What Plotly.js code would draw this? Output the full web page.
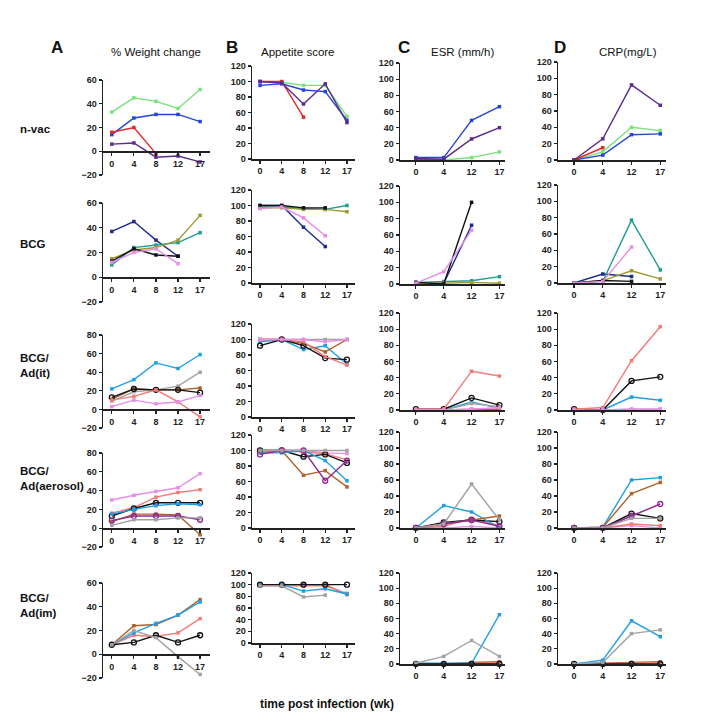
<!DOCTYPE html>
<html><head><meta charset="utf-8">
<script src="https://cdn.plot.ly/plotly-3.0.1.min.js"></script>
<style>html,body{margin:0;padding:0;background:#fff}#chart{width:708px;height:726px}</style>
</head><body><div id="chart"></div>
<script>
// ---- categories ----
const weeksAB = ['0','4','8','12','17'];
const weeksCD = ['0','4','12','17'];
const rowLabels = ['n-vac','BCG','BCG/<br>Ad(it)','BCG/<br>Ad(aerosol)','BCG/<br>Ad(im)'];
const colTitles = ['% Weight change','Appetite score','ESR (mm/h)','CRP(mg/L)'];
const colLetters = ['A','B','C','D'];

// ---- colours per group ----
const colNvac = ['#7be27b','#2346d6','#e02a2a','#5b2d8e'];
const colBCG  = ['#1c2b8c','#1f9d8f','#9d9a33','#111111','#e68de9'];
const colIt   = ['#1fa0e6','#a2a2a2','#b0622c','#111111','#f27a78','#e68de9'];
const colAer  = ['#e68de9','#f27a78','#111111','#1fa0e6','#b0622c','#8e2a94','#a2a2a2'];
const colIm   = ['#b0622c','#f27a78','#1fa0e6','#111111','#a2a2a2'];
const openNvac = [0,0,0,0];
const openBCG  = [0,0,0,0,0];
const openIt   = [0,0,0,1,0,0];
const openAer  = [0,0,1,0,0,1,0];
const openIm   = [0,0,0,1,0];

// ---- n-vac ----
const nvacWeight   = [[33,45,42,36,52],[14,28,31,31,25],[16,20,-2,null,null],[6,7,-5,-4,-9]];
const nvacAppetite = [[100,99,95,95,55],[95,97,89,87,50],[100,100,54,null,null],[100,98,71,97,47]];
const nvacESR      = [[0,0,3,10],[3,3,49,66],[1,0,null,null],[2,1,26,40]];
const nvacCRP      = [[0,10,40,36],[0,6,31,32],[0,15,null,null],[0,26,92,67]];
// ---- BCG ----
const bcgWeight   = [[37,45,30,17,null],[10,24,26,28,36],[15,22,24,30,50],[13,23,18,17,null],[12,20,23,11,null]];
const bcgAppetite = [[100,100,72,47,null],[98,98,96,95,100],[97,97,95,95,92],[100,100,97,97,null],[96,98,84,61,null]];
const bcgESR      = [[1,1,72,null],[2,3,4,9],[1,1,2,1],[2,0,100,null],[1,15,66,null]];
const bcgCRP      = [[0,11,8,null],[0,2,77,16],[0,3,15,5],[0,3,2,null],[0,2,44,null]];
// ---- BCG/Ad(it) ----
const itWeight   = [[22,32,50,44,59],[9,19,21,25,40],[11,22,21,21,23],[13,22,21,21,18],[10,14,21,8,-8],[3,10,6,8,15]];
const itAppetite = [[97,100,87,92,68],[100,100,100,100,100],[100,100,95,84,100],[92,100,92,76,74],[100,100,97,78,67],[100,100,100,97,100]];
const itESR      = [[0,0,10,2],[0,0,8,4],[0,0,1,1],[1,1,15,6],[1,1,48,42],[0,0,1,3]];
const itCRP      = [[0,0,16,12],[0,0,1,1],[0,0,0,0],[1,0,36,41],[1,3,61,103],[0,0,1,1]];
// ---- BCG/Ad(aerosol) ----
const aerWeight   = [[30,35,39,43,58],[16,22,33,38,41],[13,21,27,27,27],[15,20,24,26,25],[7,15,15,14,-7],[8,13,13,13,9],[3,9,9,11,11]];
const aerAppetite = [[100,100,100,97,96],[97,100,98,96,88],[100,100,92,95,84],[97,97,100,87,61],[100,100,68,74,53],[95,100,100,61,87],[100,100,100,100,100]];
const aerESR      = [[0,0,2,0],[0,2,12,3],[0,7,10,8],[0,28,20,0],[0,5,10,15],[0,5,10,2],[0,5,55,10]];
const aerCRP      = [[0,0,3,0],[0,0,5,3],[0,0,18,12],[0,1,60,63],[0,1,43,57],[0,0,15,30],[0,0,12,12]];
// ---- BCG/Ad(im) ----
const imWeight   = [[8,24,25,33,46],[8,16,15,18,30],[8,18,26,33,44],[8,10,16,10,16],[8,20,14,-2,-17]];
const imAppetite = [[100,100,100,100,83],[98,98,98,98,85],[100,100,89,93,84],[100,100,100,100,100],[98,98,79,82,null]];
const imESR      = [[0,0,2,3],[0,0,1,1],[1,1,1,65],[0,0,0,0],[1,10,31,10]];
const imCRP      = [[0,1,2,3],[0,0,1,2],[0,5,57,36],[0,0,0,0],[0,2,40,45]];

const groups = [
  {colors: colNvac, open: openNvac, data: [nvacWeight, nvacAppetite, nvacESR, nvacCRP]},
  {colors: colBCG,  open: openBCG,  data: [bcgWeight, bcgAppetite, bcgESR, bcgCRP]},
  {colors: colIt,   open: openIt,   data: [itWeight, itAppetite, itESR, itCRP]},
  {colors: colAer,  open: openAer,  data: [aerWeight, aerAppetite, aerESR, aerCRP]},
  {colors: colIm,   open: openIm,   data: [imWeight, imAppetite, imESR, imCRP]}
];

// ---- layout geometry (pixels) ----
const W = 708, H = 726;
const colPx = [[103,210],[252,355],[400,505],[558,666]];
const colRange = [[-0.4,4.45],[-0.37,4.37],[-0.57,3.2],[-0.56,3.2]];
const rowPx = [
  [[80,175],[66,159],[63,160],[62,160]],
  [[203,302],[190,283],[186,284],[185,283]],
  [[335,428],[324,417],[313,410],[313,410]],
  [[453,547],[435,528],[432,528],[432,528]],
  [[583,678],[573,643],[573,664],[573,664]]
];
const weightRange = [[-20,60],[-20,60],[-20,80],[-20,80],[-20,60]];

const FONT = 'Liberation Sans, Arial, Helvetica, sans-serif';
const tickFont = {family: FONT, size: 9, color: '#222', weight: 'bold'};
const traces = [];
const layout = {
  width: W, height: H, margin: {l:0,r:0,t:0,b:0},
  paper_bgcolor: '#fff', plot_bgcolor: 'rgba(0,0,0,0)',
  showlegend: false, font: {family: FONT, color: '#222'},
  annotations: []
};

for (let r = 0; r < 5; r++) {
  for (let c = 0; c < 4; c++) {
    const n = r*4 + c + 1;
    const xs = n === 1 ? 'x' : 'x'+n, ys = n === 1 ? 'y' : 'y'+n;
    const xk = n === 1 ? 'xaxis' : 'xaxis'+n, yk = n === 1 ? 'yaxis' : 'yaxis'+n;
    const cats = c < 2 ? weeksAB : weeksCD;
    const [top, bot] = rowPx[r][c];
    const yDom = [1 - bot/H, 1 - top/H];
    const yr = c === 0 ? weightRange[r] : [0,120];
    const ax = {
      type: 'category', categoryorder: 'array', categoryarray: cats,
      domain: [colPx[c][0]/W, colPx[c][1]/W], range: colRange[c],
      showline: true, linewidth: 1.5, linecolor: '#222', ticks: 'outside', ticklen: 3,
      tickwidth: 1.2, tickcolor: '#222', tickfont: tickFont, showgrid: false, zeroline: false,
      fixedrange: true
    };
    if (c === 0) {
      ax.anchor = 'free';
      ax.position = yDom[0] + (0 - yr[0])/(yr[1]-yr[0])*(yDom[1]-yDom[0]);
    } else {
      ax.anchor = ys;
    }
    layout[xk] = ax;
    layout[yk] = {
      domain: yDom, range: yr, anchor: xs, dtick: 20, tick0: 0,
      showline: true, linewidth: 1.5, linecolor: '#222', ticks: 'outside', ticklen: 3,
      tickwidth: 1.2, tickcolor: '#222', tickfont: tickFont, showgrid: false, zeroline: false,
      fixedrange: true
    };
    const g = groups[r];
    g.data[c].forEach((vals, k) => {
      const col = g.colors[k];
      const open = g.open[k];
      traces.push({
        x: cats, y: vals, xaxis: xs, yaxis: ys, type: 'scatter', mode: 'lines+markers',
        line: {color: col, width: 1.4}, connectgaps: false, cliponaxis: false,
        marker: open ? {symbol: 'circle-open', size: 5, color: col, line: {width: 1.3, color: col}}
                     : {symbol: 'square', size: 3.5, color: col},
        hoverinfo: 'skip', showlegend: false
      });
    });
  }
}

// column headers
const letterX = [57, 232, 404, 560];
const titleX = [156, 298, 462, 628];
for (let c = 0; c < 4; c++) {
  layout.annotations.push({xref:'paper', yref:'paper', x: letterX[c]/W, y: 1-47/H,
    xanchor:'center', yanchor:'middle',
    text: '<b>'+colLetters[c]+'</b>', showarrow:false, font:{family: FONT, size: 17, color:'#111'}});
  layout.annotations.push({xref:'paper', yref:'paper', x: titleX[c]/W, y: 1-52/H,
    xanchor:'center', yanchor:'middle',
    text: colTitles[c], showarrow:false, font:{family: FONT, size: 11.5, color:'#111'}});
}
// row labels
const rowY = [129, 244, 365, 479, 605];
for (let r = 0; r < 5; r++) {
  layout.annotations.push({xref:'paper', yref:'paper', x: 18/W, y: 1-rowY[r]/H, xanchor:'left',
    yanchor:'middle', align:'left', text: '<b>'+rowLabels[r]+'</b>', showarrow:false,
    font:{family: FONT, size: 11.5, color:'#111'}});
}
// x title
layout.annotations.push({xref:'paper', yref:'paper', x: 327/W, y: 1-704/H,
  xanchor:'center', yanchor:'middle',
  text: '<b>time post infection (wk)</b>', showarrow:false, font:{family: FONT, size: 12, color:'#111'}});

Plotly.newPlot('chart', traces, layout, {staticPlot: true, displayModeBar: false});
</script>
</body></html>
